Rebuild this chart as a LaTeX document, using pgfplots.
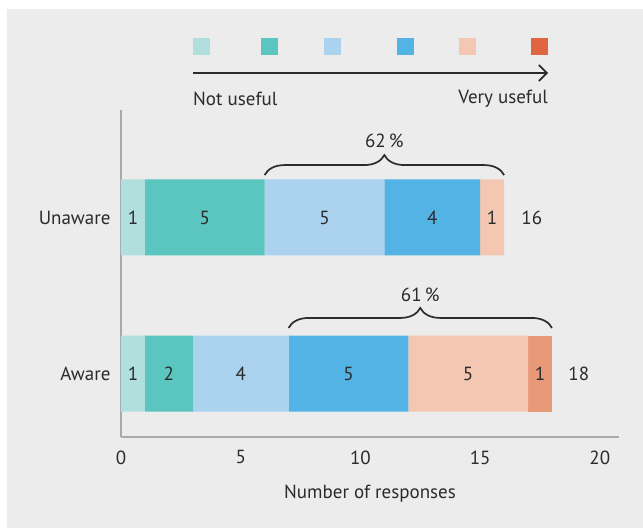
\documentclass[border=0pt]{standalone}
\usepackage{fontspec}
\setmainfont{PT Sans}
\usepackage{pgfplots}
\pgfplotsset{compat=1.18}
\usetikzlibrary{decorations.pathreplacing,arrows.meta}
\definecolor{cA}{HTML}{B0DFDD}
\definecolor{cB}{HTML}{5BC5BF}
\definecolor{cC}{HTML}{ABD3F0}
\definecolor{cD}{HTML}{54B3E5}
\definecolor{cE}{HTML}{F3C7B1}
\definecolor{cF}{HTML}{E06640}
\definecolor{cFbar}{HTML}{E89A78}
\definecolor{bggray}{HTML}{EBECEB}
\definecolor{axgray}{HTML}{A7A8AA}
\definecolor{txt}{HTML}{2B2B2B}
\begin{document}
\begin{tikzpicture}[font=\fontsize{19}{22}\selectfont, text=txt]
\path[use as bounding box] (-121pt,-91pt) rectangle (522pt,437pt);
\fill[bggray] (-114pt,-91pt) rectangle (522pt,428pt);
\begin{axis}[
  xbar stacked, bar width=76pt,
  width=498pt, height=327pt, scale only axis,
  xmin=0, xmax=20.8, ymin=-0.407, ymax=1.689,
  axis lines=left,
  axis line style={draw=axgray, line width=2.5pt, -},
  major tick length=0pt,
  xtick={0,5,10,15,20},
  ytick={0,1}, yticklabels={Aware,Unaware},
  /pgf/number format/assume math mode=true,
  tick label style={font=\fontsize{19}{22}\selectfont, text=txt},
  xticklabel style={yshift=-10pt},
  yticklabel style={xshift=-7pt},
  xlabel={Number of responses},
  xlabel style={font=\fontsize{19}{22}\selectfont, text=txt, yshift=-14pt},
  clip=false,
]
\addplot[fill=cA, draw=none] coordinates {(1,0) (1,1)};
\addplot[fill=cB, draw=none] coordinates {(2,0) (5,1)};
\addplot[fill=cC, draw=none] coordinates {(4,0) (5,1)};
\addplot[fill=cD, draw=none] coordinates {(5,0) (4,1)};
\addplot[fill=cE, draw=none] coordinates {(5,0) (1,1)};
\addplot[fill=cFbar, draw=none] coordinates {(1,0) (0,1)};
% anchor points for labels (Unaware)
\coordinate (u1) at (axis cs:0.5,1);
\coordinate (u2) at (axis cs:3.5,1);
\coordinate (u3) at (axis cs:8.5,1);
\coordinate (u4) at (axis cs:13,1);
\coordinate (u5) at (axis cs:15.5,1);
\coordinate (ut) at (axis cs:17.16,1);
% Aware
\coordinate (a1) at (axis cs:0.5,0);
\coordinate (a2) at (axis cs:2,0);
\coordinate (a3) at (axis cs:5,0);
\coordinate (a4) at (axis cs:9.5,0);
\coordinate (a5) at (axis cs:14.5,0);
\coordinate (a6) at (axis cs:17.5,0);
\coordinate (at) at (axis cs:19.12,0);
% braces
\coordinate (ub1) at (axis cs:6,1.272);
\coordinate (ub2) at (axis cs:16,1.272);
\coordinate (up) at (axis cs:11,1.490);
\coordinate (ab1) at (axis cs:7,0.292);
\coordinate (ab2) at (axis cs:18,0.292);
\coordinate (ap) at (axis cs:12.5,0.503);
\end{axis}
\node at (u1) {1};
\node at (u2) {5};
\node at (u3) {5};
\node at (u4) {4};
\node at (u5) {1};
\node at (ut) {16};
\node at (a1) {1};
\node at (a2) {2};
\node at (a3) {4};
\node at (a4) {5};
\node at (a5) {5};
\node at (a6) {1};
\node at (at) {18};
\draw[decorate, decoration={brace, amplitude=20pt}, line width=1.7pt, draw=txt] (ub1) -- (ub2);
\node at (up) {62\,\%};
\draw[decorate, decoration={brace, amplitude=20pt}, line width=1.7pt, draw=txt] (ab1) -- (ab2);
\node at (ap) {61\,\%};
% legend scale
\foreach \xx/\cc in {80.5/cA,148.5/cB,211.5/cC,284.5/cD,346.5/cE,418.5/cF}{
  \fill[\cc] (\xx pt-8.5pt,382pt) rectangle (\xx pt+8.5pt,399pt);
}
\draw[line width=1.6pt, draw=txt, -{Straight Barb[length=8pt,width=16pt]}] (72pt,364pt) -- (427pt,364pt);
\node[anchor=west, inner sep=0pt] at (72pt,338pt) {Not useful};
\node[anchor=east, inner sep=0pt] at (427pt,338pt) {Very useful};
\end{tikzpicture}
\end{document}
